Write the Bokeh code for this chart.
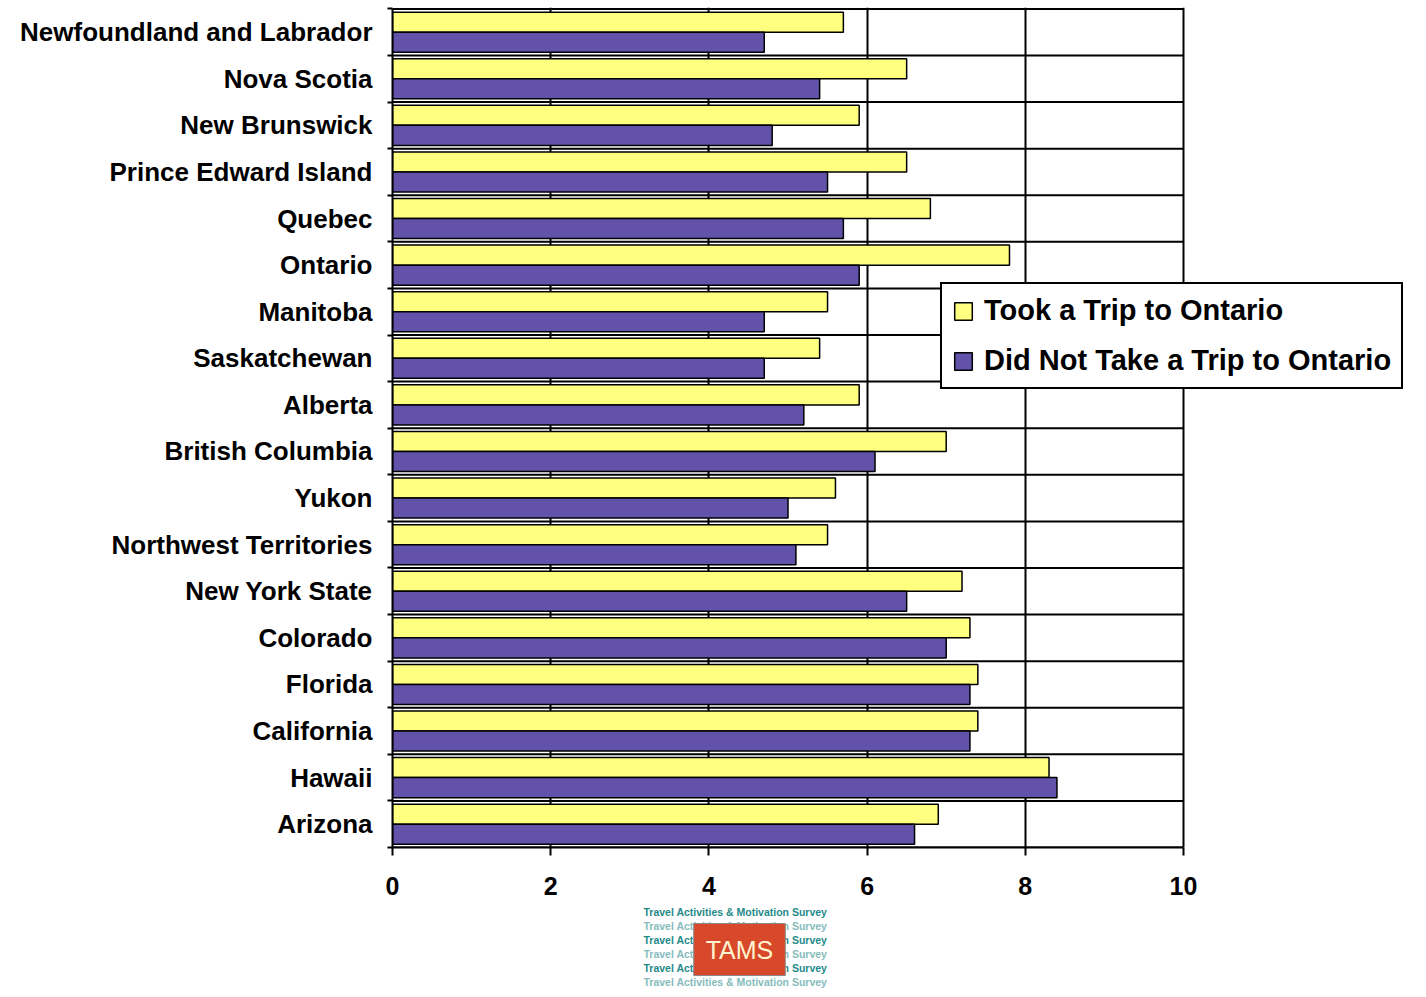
from bokeh.plotting import figure
from bokeh.layouts import column
from bokeh.models import ColumnDataSource, Range1d, FixedTicker, Legend, LegendItem, Label
from bokeh.embed import file_html
from bokeh.resources import INLINE

categories = ["Newfoundland and Labrador", "Nova Scotia", "New Brunswick", "Prince Edward Island",
              "Quebec", "Ontario", "Manitoba", "Saskatchewan", "Alberta", "British Columbia",
              "Yukon", "Northwest Territories", "New York State", "Colorado", "Florida",
              "California", "Hawaii", "Arizona"]
took_trip = [5.7, 6.5, 5.9, 6.5, 6.8, 7.8, 5.5, 5.4, 5.9, 7.0, 5.6, 5.5, 7.2, 7.3, 7.4, 7.4, 8.3, 6.9]
no_trip = [4.7, 5.4, 4.8, 5.5, 5.7, 5.9, 4.7, 4.7, 5.2, 6.1, 5.0, 5.1, 6.5, 7.0, 7.3, 7.3, 8.4, 6.6]
x_ticks = [0, 2, 4, 6, 8, 10]
series_names = ["Took a Trip to Ontario", "Did Not Take a Trip to Ontario"]
logo_text = "Travel Activities & Motivation Survey"
logo_name = "TAMS"

FONT = "Liberation Sans"
n = len(categories)
pos = [n - 1 - i for i in range(n)]
boundaries = [k - 0.5 for k in range(n + 1)]
src = ColumnDataSource(dict(cat=categories, pos=pos,
                            y1=[v + 0.215 for v in pos], y2=[v - 0.215 for v in pos],
                            took=took_trip, no=no_trip))
grid_src = ColumnDataSource(dict(y=boundaries,
                                 x0=[x_ticks[0]] * len(boundaries),
                                 x1=[x_ticks[-1]] * len(boundaries)))

W = 1418
H1 = 907
FRAME_L, FRAME_R_MARGIN = 392, 2
frame_w = W - FRAME_L - FRAME_R_MARGIN
axis_px = 791  # pixel width of the 0..10 span
x_end = x_ticks[-1] * frame_w / axis_px

p = figure(width=W, height=H1, output_backend="svg", toolbar_location=None,
           x_range=Range1d(0, x_end), y_range=Range1d(-0.5, n - 0.5 + 0.03),
           min_border_left=FRAME_L, min_border_right=FRAME_R_MARGIN, min_border_top=7,
           min_border_bottom=H1 - 847)
p.background_fill_color = "white"
p.border_fill_color = "white"
p.outline_line_color = None

# horizontal separators between categories (incl. top border)
p.segment(x0="x0", x1="x1", y0="y", y1="y", source=grid_src, line_color="black", line_width=2)

r1 = p.hbar(y="y1", right="took", left=0, height=0.43, source=src,
            fill_color="#FFFF80", line_color="black", line_width=1.5)
r2 = p.hbar(y="y2", right="no", left=0, height=0.43, source=src,
            fill_color="#6352AA", line_color="black", line_width=1.5)

# x axis
p.xaxis.ticker = FixedTicker(ticks=x_ticks)
p.xaxis.bounds = (x_ticks[0], x_ticks[-1])
p.xaxis.major_label_text_font = FONT
p.xaxis.major_label_text_font_style = "bold"
p.xaxis.major_label_text_font_size = "25px"
p.xaxis.major_label_text_color = "black"
p.xaxis.major_tick_out = 8
p.xaxis.major_tick_in = 0
p.xaxis.major_tick_line_width = 2
p.xaxis.minor_tick_line_color = None
p.xaxis.axis_line_width = 2
p.xaxis.major_label_standoff = 21
p.xgrid.ticker = FixedTicker(ticks=x_ticks)
p.xgrid.grid_line_color = "black"
p.xgrid.grid_line_width = 2

# y axis
p.yaxis.ticker = FixedTicker(ticks=pos, minor_ticks=boundaries)
p.yaxis.bounds = (boundaries[0], boundaries[-1])
p.yaxis.major_label_overrides = {v: c for v, c in zip(pos, categories)}
p.yaxis.major_label_text_font = FONT
p.yaxis.major_label_text_font_style = "bold"
p.yaxis.major_label_text_font_size = "26px"
p.yaxis.major_label_text_color = "black"
p.yaxis.major_tick_line_color = None
p.yaxis.minor_tick_out = 5
p.yaxis.minor_tick_in = 0
p.yaxis.minor_tick_line_width = 2
p.yaxis.axis_line_width = 2
p.yaxis.major_label_standoff = 14
p.ygrid.grid_line_color = None

legend = Legend(items=[LegendItem(label=series_names[0], renderers=[r1]),
                       LegendItem(label=series_names[1], renderers=[r2])],
                location=(548, 458))
legend.label_text_font = FONT
legend.label_text_font_style = "bold"
legend.label_text_font_size = "29px"
legend.label_text_color = "black"
legend.label_height = 33
legend.glyph_height = 22
legend.glyph_width = 22
legend.label_standoff = 10
legend.spacing = 17
legend.padding = 10
legend.border_line_color = "black"
legend.border_line_alpha = 1
legend.border_line_width = 2
legend.background_fill_color = "white"
legend.background_fill_alpha = 1
p.add_layout(legend, "center")

# TAMS logo (approximation) in a small strip below; its frame is aligned with the chart frame
H2 = 82
logo = figure(width=W, height=H2, output_backend="svg", toolbar_location=None,
              x_range=Range1d(0, 1), y_range=Range1d(0, 1),
              min_border=0, x_axis_type=None, y_axis_type=None)
logo.outline_line_color = None
logo.grid.grid_line_color = None
LOGO_X = 643 - FRAME_L
logo_colors = ["#1f8a8a", "#86bcbc", "#1f8a8a", "#86bcbc", "#1f8a8a", "#86bcbc"]
for i, c in enumerate(logo_colors):
    logo.add_layout(Label(x=LOGO_X, y=H2 - 4 - 14 * i, x_units="screen", y_units="screen",
                          text=logo_text, text_font=FONT, text_font_style="bold",
                          text_font_size="10.5px", text_color=c, text_baseline="middle"))
logo.add_layout(Label(x=LOGO_X + 96, y=H2 - 42, x_units="screen", y_units="screen",
                      text=logo_name, text_font=FONT, text_font_size="25px",
                      text_color="#fff4d0", text_align="center", text_baseline="middle",
                      background_fill_color="#d8482b", border_line_color="#8a8a8a",
                      padding=12))

layout = column(p, logo, spacing=0)
open("out.html", "w").write(file_html(layout, INLINE))
